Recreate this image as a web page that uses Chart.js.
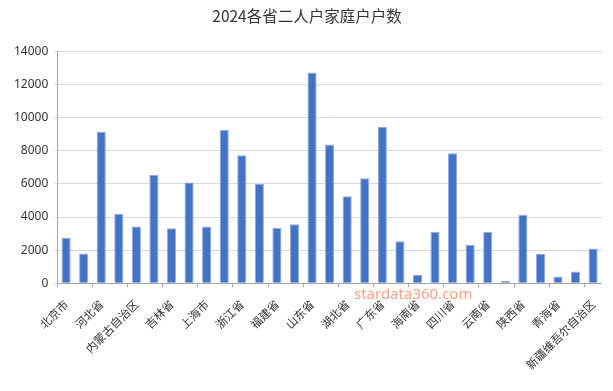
<!DOCTYPE html>
<html>
<head>
<meta charset="utf-8">
<script src="https://cdn.jsdelivr.net/npm/chart.js@4"></script>
<style>
  html, body { margin: 0; padding: 0; background: #fff; }
  #wrap { width: 613px; height: 391px; }
</style>
</head>
<body>
<div id="wrap"><canvas id="myChart" width="613" height="391"></canvas></div>
<script>
const provinces = ['北京市', '天津市', '河北省', '山西省', '内蒙古自治区', '辽宁省', '吉林省', '黑龙江省',
    '上海市', '江苏省', '浙江省', '安徽省', '福建省', '江西省', '山东省', '河南省', '湖北省', '湖南省',
    '广东省', '广西壮族自治区', '海南省', '重庆市', '四川省', '贵州省', '云南省', '西藏自治区', '陕西省',
    '甘肃省', '青海省', '宁夏回族自治区', '新疆维吾尔自治区'];
const households = [2750, 1800, 9150, 4200, 3420, 6560, 3320, 6080,
    3430, 9270, 7740, 5990, 3330, 3570, 12730, 8380, 5250, 6340,
    9450, 2530, 490, 3110, 7860, 2320, 3090, 140, 4140,
    1780, 400, 710, 2100];
const yTicks = [0, 2000, 4000, 6000, 8000, 10000, 12000, 14000];

const watermark = {
    id: 'watermark',
    afterDraw(chart) {
        const ctx = chart.ctx;
        ctx.save();
        ctx.font = '15px "Noto Sans", sans-serif';
        ctx.fillStyle = 'rgba(255, 120, 80, 0.7)';
        ctx.textAlign = 'left';
        ctx.textBaseline = 'middle';
        ctx.fillText('stardata360.com', 354, 295);
        ctx.restore();
    }
};

const canvasContext = document.getElementById('myChart').getContext('2d');

new Chart(canvasContext, {
    type: 'bar',
    data: {
        labels: provinces,
        datasets: [{
            data: households,
            backgroundColor: '#4472c4',
            borderColor: '#8eaadc',
            borderWidth: { top: 1, left: 1, right: 1, bottom: 0 },
            categoryPercentage: 1,
            barPercentage: 0.52,
        }]
    },
    options: {
        responsive: false,
        animation: false,
        layout: { padding: { left: 8, right: 7, top: 4, bottom: 9 } },
        plugins: {
            legend: { display: false },
            tooltip: { enabled: false },
            title: {
                display: true,
                text: '2024各省二人户家庭户户数',
                color: '#333',
                font: { family: '"Noto Sans CJK SC", sans-serif', size: 15.5, weight: 'normal' },
                padding: { top: 3, bottom: 26 },
            },
        },
        scales: {
            x: {
                ticks: {
                    autoSkip: false,
                    maxRotation: 45,
                    minRotation: 45,
                    color: '#333',
                    font: { family: '"Noto Sans CJK SC", sans-serif', size: 11.5 },
                    padding: 10,
                    callback: (value, index) => index % 2 === 0 ? provinces[index] : '',
                },
                grid: {
                    drawOnChartArea: false,
                    drawTicks: true,
                    tickLength: 4,
                    color: (c) => c.index % 2 === 0 ? '#a6a6a6' : 'rgba(0,0,0,0)',
                },
                border: { color: '#a6a6a6' },
            },
            y: {
                min: 0,
                max: 14000,
                afterBuildTicks: (axis) => { axis.ticks = yTicks.map(v => ({ value: v })); },
                ticks: {
                    color: '#333',
                    font: { family: '"Noto Sans", sans-serif', size: 12 },
                    padding: 6,
                    callback: (v) => String(v),
                },
                grid: { color: '#d9d9d9', tickLength: 3, lineWidth: 1 },
                border: { color: '#a6a6a6' },
            }
        }
    },
    plugins: [watermark],
});
</script>
</body>
</html>
